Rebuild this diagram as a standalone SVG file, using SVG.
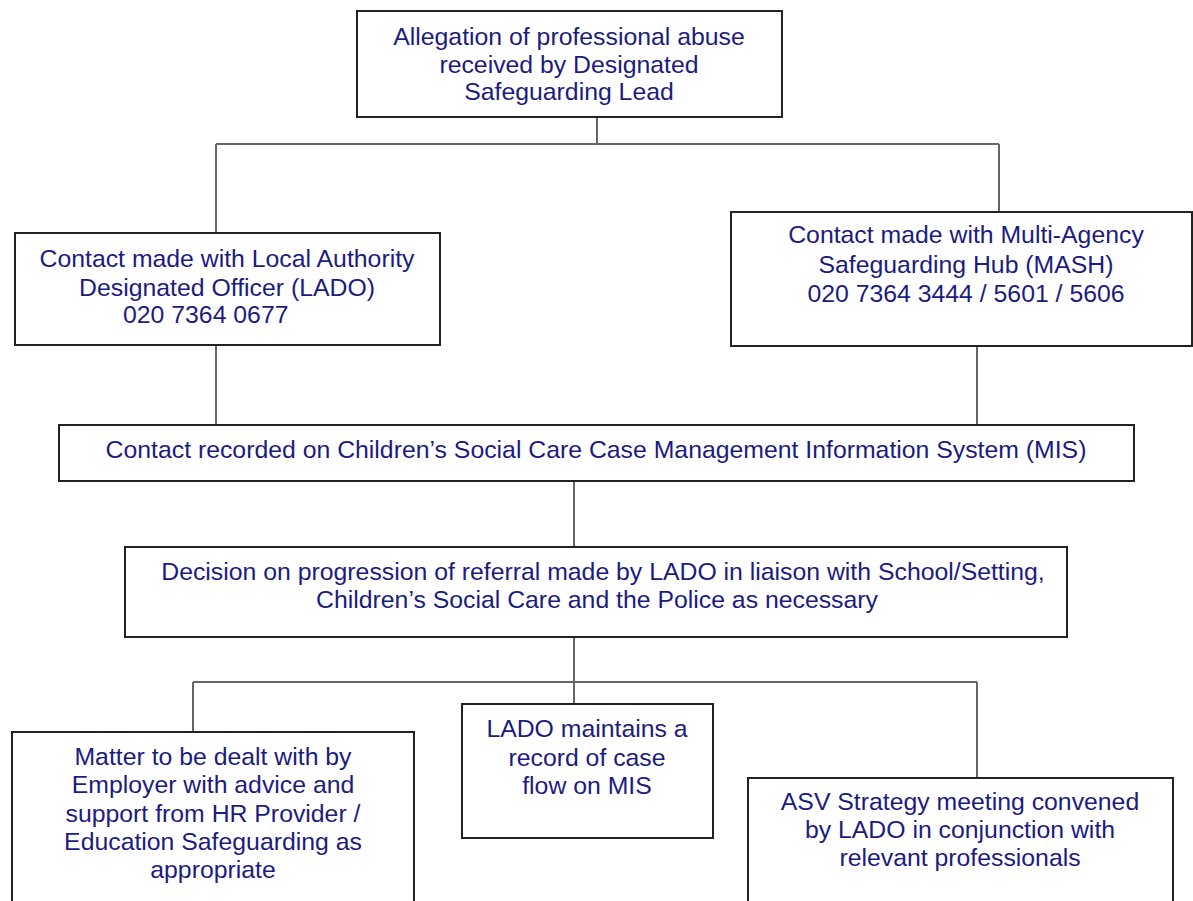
<svg xmlns="http://www.w3.org/2000/svg" width="1193" height="901" viewBox="0 0 1193 901">
<style>
.box{fill:#fff;stroke:#222;stroke-width:2}
.t{font-family:"Liberation Sans",Arial,sans-serif;font-size:24.8px;fill:#1c1c80;text-anchor:middle}
.c{fill:none;stroke:#666;stroke-width:2}
</style>
<rect width="1193" height="901" fill="#fff"/>
<g id="connectors">
<path class="c" d="M597 117V144M216 144H999M216 144V233M999 144V212"/>
<path class="c" d="M216 345V425M977 346V425"/>
<path class="c" d="M574 481V547M574 637V682M193 682H977M193 682V732M574 682V704M977 682V778"/>
</g>
<g id="n-allegation">
<rect class="box" x="357" y="11" width="425" height="106"/>
<text class="t" x="569" y="45">Allegation of professional abuse</text>
<text class="t" x="569" y="73">received by Designated</text>
<text class="t" x="569" y="100">Safeguarding Lead</text>
</g>
<g id="n-lado">
<rect class="box" x="15" y="233" width="425" height="112"/>
<text class="t" x="227" y="267">Contact made with Local Authority</text>
<text class="t" x="227" y="296">Designated Officer (LADO)</text>
<text class="t" x="123" y="323" style="text-anchor:start">020 7364 0677</text>
</g>
<g id="n-mash">
<rect class="box" x="731" y="212" width="461" height="134"/>
<text class="t" x="966" y="243">Contact made with Multi-Agency</text>
<text class="t" x="966" y="273">Safeguarding Hub (MASH)</text>
<text class="t" x="966" y="302">020 7364 3444 / 5601 / 5606</text>
</g>
<g id="n-mis">
<rect class="box" x="59" y="425" width="1075" height="56"/>
<text class="t" x="596" y="458">Contact recorded on Children’s Social Care Case Management Information System (MIS)</text>
</g>
<g id="n-decision">
<rect class="box" x="125" y="547" width="942" height="90"/>
<text class="t" x="603" y="580">Decision on progression of referral made by LADO in liaison with School/Setting,</text>
<text class="t" x="597" y="608">Children’s Social Care and the Police as necessary</text>
</g>
<g id="n-employer">
<rect class="box" x="12" y="732" width="402" height="190"/>
<text class="t" x="213" y="765">Matter to be dealt with by</text>
<text class="t" x="213" y="793">Employer with advice and</text>
<text class="t" x="213" y="822">support from HR Provider /</text>
<text class="t" x="213" y="850">Education Safeguarding as</text>
<text class="t" x="213" y="878">appropriate</text>
</g>
<g id="n-record">
<rect class="box" x="462" y="704" width="251" height="134"/>
<text class="t" x="587" y="737">LADO maintains a</text>
<text class="t" x="587" y="766">record of case</text>
<text class="t" x="587" y="794">flow on MIS</text>
</g>
<g id="n-asv">
<rect class="box" x="748" y="778" width="425" height="144"/>
<text class="t" x="960" y="810">ASV Strategy meeting convened</text>
<text class="t" x="960" y="838">by LADO in conjunction with</text>
<text class="t" x="960" y="866">relevant professionals</text>
</g>
</svg>
